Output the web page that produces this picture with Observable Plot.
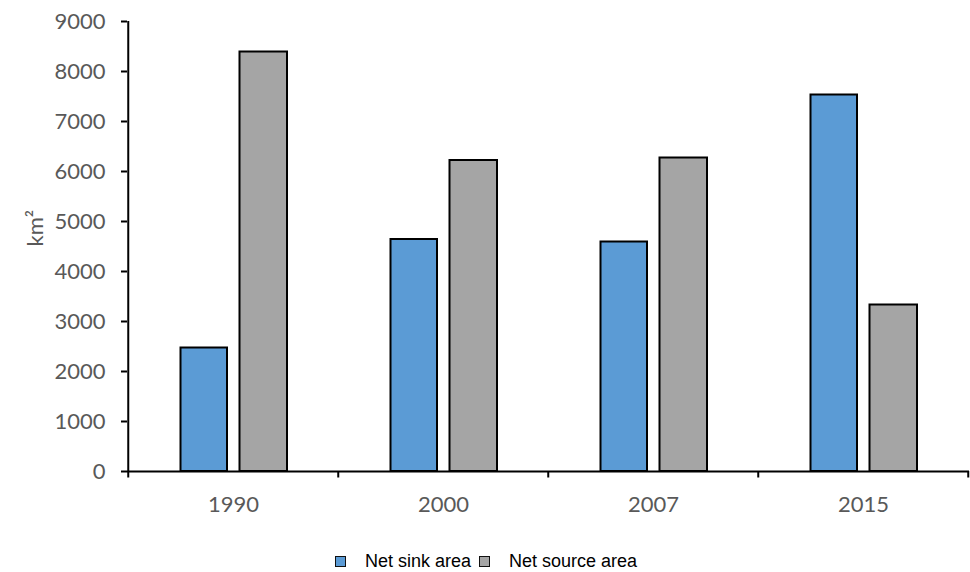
<!DOCTYPE html>
<html>
<head>
<meta charset="utf-8">
<script src="https://cdn.jsdelivr.net/npm/d3@7"></script>
<script src="https://cdn.jsdelivr.net/npm/@observablehq/plot@0.6"></script>
<style>
  html, body { margin: 0; padding: 0; background: #fff; }
  body { width: 970px; height: 572px; position: relative; overflow: hidden; }
  #legend { position: absolute; left: 335px; top: 551px; height: 20px; display: flex; align-items: center;
            font-family: "Liberation Sans", Arial, sans-serif; font-size: 18px; color: #000; }
  .sw { width: 9px; height: 9px; border: 1.5px solid #111; display: inline-block; }
</style>
</head>
<body>
<div id="chart"></div>
<div id="legend"></div>
<script>
const years = ["1990", "2000", "2007", "2015"];
const sinkArea = [2470, 4640, 4590, 7530];
const sourceArea = [8390, 6220, 6270, 3330];
const seriesNames = ["Net sink area", "Net source area"];
const seriesColors = ["#5B9BD5", "#A5A5A5"];
const yTicks = [0, 1000, 2000, 3000, 4000, 5000, 6000, 7000, 8000, 9000];
const yLabel = "km²";

const sinkRows = years.map((y, i) => ({year: y, value: sinkArea[i]}));
const sourceRows = years.map((y, i) => ({year: y, value: sourceArea[i]}));

const W = 970, H = 540, mL = 127, mR = 1, mT = 21, mB = H - 471;
const bw = (W - mL - mR) / years.length;
const font = "Lato, 'Open Sans', sans-serif";

const chart = Plot.plot({
  width: W,
  height: H,
  marginLeft: mL,
  marginRight: mR,
  marginTop: mT,
  marginBottom: mB,
  style: {fontFamily: font, background: "#fff"},
  x: {domain: years, padding: 0, axis: null},
  y: {domain: [0, 9000], axis: null},
  marks: [
    Plot.barY(sinkRows, {x: "year", y: "value", fill: seriesColors[0], stroke: "#000", strokeWidth: 2,
      insetLeft: 52.5, insetRight: bw - 99.5}),
    Plot.barY(sourceRows, {x: "year", y: "value", fill: seriesColors[1], stroke: "#000", strokeWidth: 2,
      insetLeft: 111.5, insetRight: bw - 159.5}),
    Plot.axisY(yTicks, {tickSize: 6, tickPadding: 16, fontSize: 22, stroke: "#000", strokeWidth: 2,
      fill: "#595959", tickFormat: d => String(d), label: null}),
    Plot.text([yLabel], {text: d => d, frameAnchor: "left", dx: -92, rotate: -90, fontSize: 22, fill: "#595959"}),
    Plot.axisX(years, {tickSize: 0, tickPadding: 25, fontSize: 22, fill: "#595959", label: null}),
    Plot.ruleX(years, {x: d => d, y1: 0, y2: -130, dx: -bw / 2, stroke: "#000", strokeWidth: 2}),
    Plot.ruleX(years.slice(-1), {x: d => d, y1: 0, y2: -130, dx: bw / 2 - 0.5, stroke: "#000", strokeWidth: 2}),
    Plot.ruleX(years.slice(0, 1), {x: d => d, y1: 0, y2: 9000, dx: -bw / 2, stroke: "#000", strokeWidth: 2}),
    Plot.ruleY([0], {stroke: "#000", strokeWidth: 2})
  ]
});
document.getElementById("chart").appendChild(chart);

const legend = document.getElementById("legend");
seriesNames.forEach((name, i) => {
  const sw = document.createElement("span");
  sw.className = "sw";
  sw.style.background = seriesColors[i];
  sw.style.marginRight = "19px";
  legend.appendChild(sw);
  const t = document.createElement("span");
  t.textContent = name;
  t.style.marginRight = i === 0 ? "8px" : "0";
  legend.appendChild(t);
});
</script>
</body>
</html>
